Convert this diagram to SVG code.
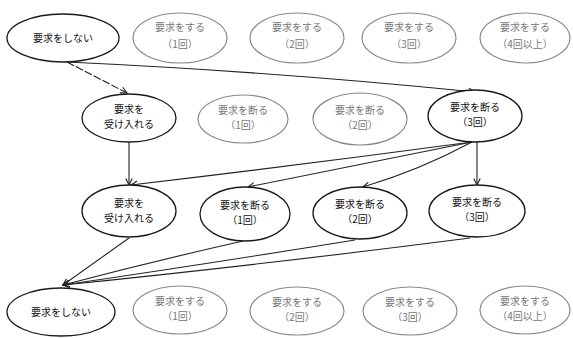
<svg xmlns="http://www.w3.org/2000/svg" width="573" height="338" viewBox="0 0 573 338">
<style>
.b ellipse{fill:#fff;stroke:#1a1a1a;stroke-width:1.3}
.g ellipse{fill:#fff;stroke:#8a8a8a;stroke-width:1.2}
text{font-family:"Noto Sans CJK JP","Noto Sans",sans-serif;font-size:10px;text-anchor:middle}
.b text{fill:#111}
.g text{fill:#777}
.c path{fill:none;stroke:#222;stroke-width:1.1}
</style>
<defs>
<marker id="ah" viewBox="0 0 10 10" refX="9" refY="5" markerWidth="8" markerHeight="8" markerUnits="userSpaceOnUse" orient="auto">
<path d="M1,1 L9,5 L1,9" fill="none" stroke="#222" stroke-width="1.4"/>
</marker>
</defs>
<g class="c">
<path d="M67,62 L127,93" marker-end="url(#ah)" stroke-dasharray="8,2"/>
<path d="M67,62 Q280,72 475,92" marker-end="url(#ah)"/>
<path d="M129,142 L129,185" marker-end="url(#ah)"/>
<path d="M472,142 Q300,165 131,185" marker-end="url(#ah)"/>
<path d="M472,142 Q360,165 248,187" marker-end="url(#ah)"/>
<path d="M472,142 Q420,170 363,187" marker-end="url(#ah)"/>
<path d="M477,142 L477,185" marker-end="url(#ah)"/>
<path d="M129,238 L63,285" marker-end="url(#ah)"/>
<path d="M243,241 Q150,262 63,285" marker-end="url(#ah)"/>
<path d="M355,240 Q200,265 63,285" marker-end="url(#ah)"/>
<path d="M470,238 Q260,265 63,285" marker-end="url(#ah)"/>
</g>
<g id="r1a" class="b"><ellipse cx="63" cy="38" rx="56" ry="24"/><text x="63" y="42">要求をしない</text></g>
<g id="r1b" class="g"><ellipse cx="180" cy="38" rx="47" ry="25"/><text x="180" y="31">要求をする</text><text x="180" y="48">（1回）</text></g>
<g id="r1c" class="g"><ellipse cx="297" cy="38" rx="47" ry="25"/><text x="297" y="31">要求をする</text><text x="297" y="48">（2回）</text></g>
<g id="r1d" class="g"><ellipse cx="409" cy="38" rx="47" ry="25"/><text x="409" y="31">要求をする</text><text x="409" y="48">（3回）</text></g>
<g id="r1e" class="g"><ellipse cx="525" cy="38" rx="45" ry="25"/><text x="525" y="31">要求をする</text><text x="525" y="48">（4回以上）</text></g>
<g id="r2a" class="b"><ellipse cx="129" cy="118" rx="47" ry="24"/><text x="129" y="113">要求を</text><text x="129" y="128">受け入れる</text></g>
<g id="r2b" class="g"><ellipse cx="243" cy="119" rx="45" ry="24"/><text x="243" y="114">要求を断る</text><text x="243" y="129">（1回）</text></g>
<g id="r2c" class="g"><ellipse cx="360" cy="119" rx="47" ry="26"/><text x="360" y="114">要求を断る</text><text x="360" y="129">（2回）</text></g>
<g id="r2d" class="b"><ellipse cx="475" cy="116" rx="47" ry="26"/><text x="475" y="111">要求を断る</text><text x="475" y="126">（3回）</text></g>
<g id="r3a" class="b"><ellipse cx="129" cy="211" rx="47" ry="26"/><text x="129" y="207">要求を</text><text x="129" y="222">受け入れる</text></g>
<g id="r3b" class="b"><ellipse cx="245" cy="214" rx="45" ry="27"/><text x="245" y="209">要求を断る</text><text x="245" y="224">（1回）</text></g>
<g id="r3c" class="b"><ellipse cx="360" cy="213" rx="47" ry="26"/><text x="360" y="208">要求を断る</text><text x="360" y="223">（2回）</text></g>
<g id="r3d" class="b"><ellipse cx="477" cy="211" rx="48" ry="26"/><text x="477" y="206">要求を断る</text><text x="477" y="221">（3回）</text></g>
<g id="r4a" class="b"><ellipse cx="61" cy="312" rx="54" ry="24"/><text x="61" y="316">要求をしない</text></g>
<g id="r4b" class="g"><ellipse cx="180" cy="310" rx="47" ry="24"/><text x="180" y="305">要求をする</text><text x="180" y="320">（1回）</text></g>
<g id="r4c" class="g"><ellipse cx="297" cy="311" rx="47" ry="24"/><text x="297" y="306">要求をする</text><text x="297" y="321">（2回）</text></g>
<g id="r4d" class="g"><ellipse cx="410" cy="311" rx="47" ry="24"/><text x="410" y="306">要求をする</text><text x="410" y="321">（3回）</text></g>
<g id="r4e" class="g"><ellipse cx="525" cy="310" rx="45" ry="24"/><text x="525" y="305">要求をする</text><text x="525" y="320">（4回以上）</text></g>
</svg>
